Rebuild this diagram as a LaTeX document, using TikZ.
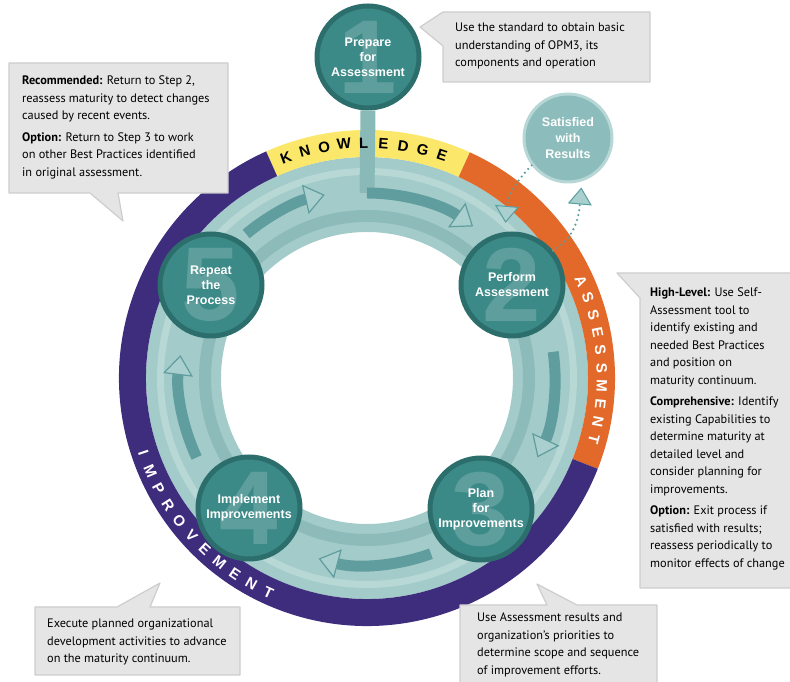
\documentclass[tikz,border=0pt]{standalone}
\usepackage{fontspec}
\newfontfamily\notefont{PT Sans}
\newfontfamily\stepfont{Liberation Sans}
\usetikzlibrary{arrows.meta,calc}

\definecolor{bandyellow}{HTML}{FBE86A}
\definecolor{bandorange}{HTML}{E2692A}
\definecolor{bandpurple}{HTML}{3E2C7D}
\definecolor{ringteal}{HTML}{A3CBC9}
\definecolor{ringgroove}{HTML}{8CBBB9}
\definecolor{ringlight}{HTML}{B8D8D6}
\definecolor{stepfill}{HTML}{3B8A88}
\definecolor{steprim}{HTML}{2C6E6C}
\definecolor{stepdigit}{HTML}{5E9F9D}
\definecolor{stemteal}{HTML}{8ABAB8}
\definecolor{flowdark}{HTML}{5F9D9E}
\definecolor{flowhead}{HTML}{A9D0CE}
\definecolor{dotteal}{HTML}{5A9EA0}
\definecolor{satfill}{HTML}{8CBCBB}
\definecolor{satrim}{HTML}{B7D7D6}
\definecolor{notefill}{HTML}{E5E5E5}
\definecolor{noterim}{HTML}{CDCDCD}

\tikzset{
  stepnode/.style={circle, fill=stepfill, draw=steprim, line width=5pt, minimum size=102pt,
    inner sep=0pt, text=stepdigit, font=\stepfont\bfseries\fontsize{105}{105}\selectfont},
  steplabel/.style={text=white, align=center, inner sep=0pt,
    font=\stepfont\bfseries\fontsize{12.5}{15}\selectfont},
  satnode/.style={circle, fill=satfill, draw=satrim, line width=3pt, minimum size=88pt,
    inner sep=0pt, text=white, align=center, font=\stepfont\bfseries\fontsize{12.5}{16}\selectfont},
  bandletter/.style={inner sep=0pt, font=\stepfont\bfseries\fontsize{15}{15}\selectfont},
  flow/.style={flowdark, line width=11pt,
    -{Triangle[length=20pt, width=30pt, fill=flowhead, line width=1.2pt]}},
  stem/.style={stemteal, line width=15pt},
  dotlink/.style={draw=dotteal, line width=2.4pt, line cap=round, dash pattern=on 0pt off 5pt,
    -{Triangle[length=17pt, width=24pt, fill=flowhead, line width=1pt]}},
  notebox/.style={fill=notefill, draw=noterim, line width=1.2pt, line join=round},
  notetext/.style={anchor=north west, align=left, inner sep=0pt,
    font=\notefont\fontsize{12.3}{17.5}\selectfont}
}

\begin{document}
\begin{tikzpicture}[x=1pt, y=1pt]
  \useasboundingbox (0,0) rectangle (790,682);
  \coordinate (c) at (367,304);

  % teal ring
  \fill[ringteal, even odd rule] (c) circle[radius=221pt] (c) circle[radius=146pt];
  \fill[ringgroove, even odd rule] (c) circle[radius=168pt] (c) circle[radius=156pt];
  \fill[ringlight, even odd rule] (c) circle[radius=210pt] (c) circle[radius=203pt];

  % coloured bands
  \foreach \sa/\ea/\bcol in {114/65.5/bandyellow, 65.5/-21.5/bandorange, -21.5/-246/bandpurple}
    \fill[\bcol] ($(c)+(\sa:248)$) arc[start angle=\sa, end angle=\ea, radius=248pt]
      -- ($(c)+(\ea:221)$) arc[start angle=\ea, end angle=\sa, radius=221pt] -- cycle;

  % flow along the ring
  \draw[flow] ($(c)+(130:188)$) arc[start angle=130, end angle=103, radius=188pt];
  \draw[flow] ($(c)+(8:188)$) arc[start angle=8, end angle=-25, radius=188pt];
  \draw[flow] ($(c)+(290:187)$) arc[start angle=290, end angle=255, radius=187pt];
  \draw[flow] ($(c)+(205:188)$) arc[start angle=205, end angle=173, radius=188pt];

  % steps
  \node[stepnode] (s1) at (368,625) {1};
  \node[stepnode] (s2) at (512,397) {2};
  \node[stepnode] (s3) at (481,173) {3};
  \node[stepnode] (s4) at (249,174) {4};
  \node[stepnode] (s5) at (211,397) {5};
  \node[steplabel] (l1) at (s1) {Prepare\\for\\Assessment};
  \node[steplabel] (l2) at (s2) {Perform\\Assessment};
  \node[steplabel] (l3) at (s3) {Plan\\for\\Improvements};
  \node[steplabel] (l4) at (s4) {Implement\\Improvements};
  \node[steplabel] (l5) at (s5) {Repeat\\the\\Process};

  % stem from step 1 into the ring
  \coordinate (stemjoin) at ($(c)+(90:185)$);
  \draw[stem] (s1.south) -- (stemjoin);
  \draw[flow] (stemjoin) arc[start angle=90, end angle=55, radius=185pt];

  % band letters
  \foreach \ltr [count=\n] in {K,N,O,W,L,E,D,G,E} {
    \pgfmathsetmacro\ang{110.2-4.85*(\n-1)}
    \pgfmathsetmacro\rot{\ang-90}
    \node[bandletter, text=black, rotate=\rot] (kn\n) at ($(c)+(\ang:235)$) {\ltr};
  }
  \foreach \ltr [count=\n] in {A,S,S,E,S,S,M,E,N,T} {
    \pgfmathsetmacro\ang{24.3-4.38*(\n-1)}
    \pgfmathsetmacro\rot{\ang-90}
    \node[bandletter, text=white, rotate=\rot] (as\n) at ($(c)+(\ang:235)$) {\ltr};
  }
  \foreach \ltr [count=\n] in {I,M,P,R,O,V,E,M,E,N,T} {
    \pgfmathsetmacro\ang{198.6+4.67*(\n-1)}
    \pgfmathsetmacro\rot{\ang+90}
    \node[bandletter, text=white, rotate=\rot] (im\n) at ($(c)+(\ang:236)$) {\ltr};
  }

  % exit option
  \node[satnode] (sat) at (568,544) {Satisfied\\with\\Results};
  \draw[dotlink] (sat.217) to[out=225, in=85] ([yshift=9pt]s2.97);
  \draw[dotlink] (s2.40) to[out=30, in=-95] ([yshift=-6pt]sat.287);

  % callouts
  \draw[notebox] (443,670) -- (650,670) -- (650,600) -- (443,600) -- (443,636) -- (420,655) -- cycle;
  \node[notetext] (nknow) at (455,659) {Use the standard to obtain basic\\understanding of OPM3, its\\components and operation};

  \draw[notebox] (9,619) -- (228,619) -- (228,489) -- (118,489) -- (123,461) -- (90,489) -- (9,489) -- cycle;
  \node[notetext] (nrepeat) at (22,606) {\textbf{Recommended:} Return to Step 2,\\reassess maturity to detect changes\\caused by recent events.\\[4pt]
    \textbf{Option:} Return to Step 3 to work\\on other Best Practices identified\\in original assessment.};

  \draw[notebox] (617,409) -- (800,409) -- (800,94) -- (640,94) -- (640,384) -- cycle;
  \node[notetext] (nassess) at (650,394) {\textbf{High-Level:} Use Self-\\Assessment tool to\\identify existing and\\needed Best Practices\\and position on\\maturity continuum.\\[4pt]
    \textbf{Comprehensive:} Identify\\existing Capabilities to\\determine maturity at\\detailed level and\\consider planning for\\improvements.\\[4pt]
    \textbf{Option:} Exit process if\\satisfied with results;\\reassess periodically to\\monitor effects of change};

  \draw[notebox] (35,75) -- (117,75) -- (160,99) -- (150,75) -- (240,75) -- (240,7) -- (35,7) -- cycle;
  \node[notetext] (nimpl) at (47,63) {Execute planned organizational\\development activities to advance\\on the maturity continuum.};

  \draw[notebox] (460,77) -- (547,77) -- (537,98) -- (577,77) -- (657,77) -- (657,-10) -- (460,-10) -- cycle;
  \node[notetext] (nplan) at (477,69) {Use Assessment results and\\organization’s priorities to\\determine scope and sequence\\of improvement efforts.};
\end{tikzpicture}
\end{document}
